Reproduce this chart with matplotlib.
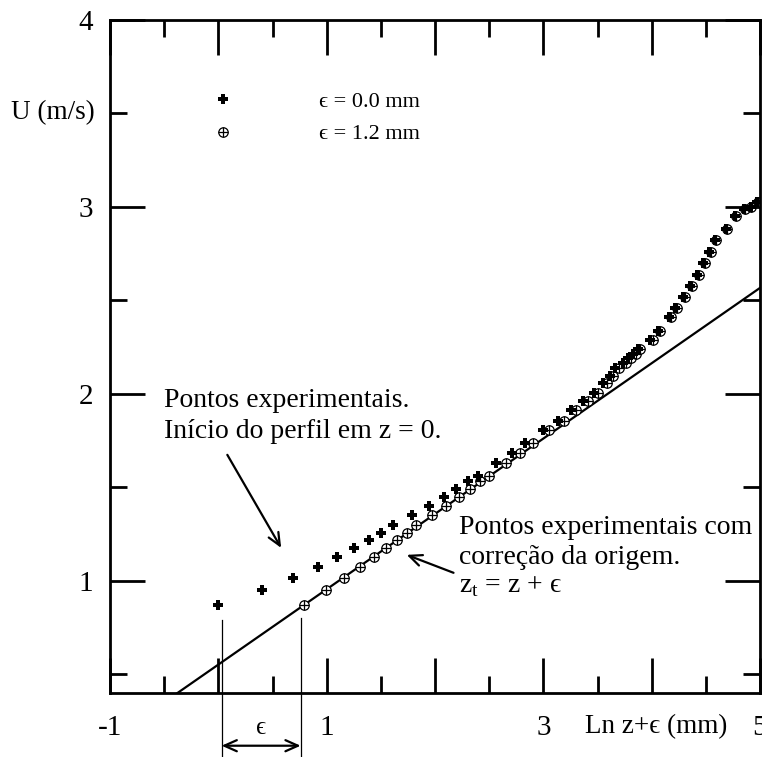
import numpy as np
import matplotlib
matplotlib.use("Agg")
import matplotlib.pyplot as plt
from matplotlib.lines import Line2D
from matplotlib.legend_handler import HandlerTuple

plt.rcParams['font.family'] = ['Liberation Serif', 'DejaVu Serif']
plt.rcParams['mathtext.fontset'] = 'custom'
plt.rcParams['mathtext.rm'] = 'Liberation Serif'

# profile heights (mm) and measured velocities (m/s)
z_mm = [1, 1.5, 2, 2.5, 3, 3.5, 4, 4.5, 5, 6, 7, 8, 9, 10, 11, 13, 15, 17,
        20, 23, 26, 29, 32, 35, 37, 39, 42, 44, 46, 48, 54, 58, 64, 68, 73,
        78, 83, 88, 93, 98, 108, 118, 128, 136, 144]
u_ms = [0.872, 0.952, 1.016, 1.075, 1.128, 1.176, 1.219, 1.257, 1.299, 1.353,
        1.398, 1.449, 1.490, 1.532, 1.561, 1.63, 1.685, 1.735,
        1.805, 1.856, 1.914, 1.963, 2.005, 2.059, 2.096, 2.139, 2.165, 2.19,
        2.215, 2.241, 2.289, 2.337, 2.412, 2.46, 2.519,
        2.578, 2.636, 2.701, 2.759, 2.824, 2.882, 2.952, 2.989, 3.0, 3.027]
eps_mm = 1.2

# log-law fit  U = a + b * ln(z+eps)
fit_a = 0.552
fit_b = 0.403

xticks = [-1, 0, 1, 2, 3, 4, 5]
xticklabels = ['-1', '', '1', '', '3', '', '5']
yticks = [1, 2, 3, 4]
yticklabels = ['1', '2', '3', '4']

EPS = '\u03f5'

z = np.array(z_mm)
u = np.array(u_ms)
x0 = np.log(z)
x1 = np.log(z + eps_mm)

fig = plt.figure(figsize=(7.62, 7.57), dpi=100)
ax = fig.add_axes([110/762, 64/757, 650/762, 673/757])

xl = np.linspace(-1, 5, 50)
ax.plot(xl, fit_a + fit_b*xl, color='black', lw=1.6)

ax.plot(x1, u, 'o', ms=6.8, mfc='white', mec='black', mew=0.9)
ax.plot(x1, u, '+', ms=6.8, color='black', mew=0.9)
ax.plot(x0, u, 'P', ms=7.5, color='black', mew=0)

ax.set_xlim(-1, 5)
ax.set_ylim(0.4, 4)
ax.set_xticks(xticks)
ax.set_xticklabels(xticklabels)
ax.set_xticks(np.arange(-0.5, 5, 1), minor=True)
ax.set_yticks(yticks)
ax.set_yticklabels(yticklabels)
ax.set_yticks([0.5, 1.5, 2.5, 3.5], minor=True)
ax.tick_params(which='both', direction='in', top=True, right=True, width=2,
               labelsize=21)
ax.tick_params(which='major', length=25)
ax.tick_params(which='minor', length=12.5)
ax.tick_params(axis='x', pad=16)
ax.tick_params(axis='y', pad=12)
for s in ax.spines.values():
    s.set_linewidth(2)

ax.text(-0.088, 0.862, 'U (m/s)', transform=ax.transAxes, fontsize=19.5,
        ha='center', va='center')
ax.text(0.84, -0.0505, 'Ln z+' + EPS + ' (mm)', transform=ax.transAxes,
        fontsize=19.5, ha='center', va='center')

# legend
h_plus = Line2D([], [], marker='P', ls='none', ms=7.5, color='black', mew=0)
h_c1 = Line2D([], [], marker='o', ls='none', ms=6.8, mfc='white', mec='black', mew=0.9)
h_c2 = Line2D([], [], marker='+', ls='none', ms=6.8, color='black', mew=0.9)
ax.legend([h_plus, (h_c1, h_c2)], [EPS + ' = 0.0 mm', EPS + ' = 1.2 mm'],
          handler_map={tuple: HandlerTuple(ndivide=1)},
          loc='upper left', bbox_to_anchor=(0.157, 0.8945), frameon=False,
          fontsize=16, handlelength=1.0, handletextpad=3.8, labelspacing=0.55,
          borderpad=0, borderaxespad=0)

# annotations
ax.text(-0.506, 1.882, 'Pontos experimentais.\nIn\u00edcio do perfil em z = 0.',
        fontsize=20, ha='left', va='center', linespacing=1.35)
ax.annotate('', xy=(0.58, 1.176), xytext=(0.083, 1.674),
            arrowprops=dict(arrowstyle='->,head_length=0.9,head_width=0.4', lw=1.6,
                            color='black', shrinkA=0, shrinkB=0))

ax.text(2.217, 1.205, 'Pontos experimentais com\ncorre\u00e7\u00e3o da origem.',
        fontsize=20, ha='left', va='center', linespacing=1.25)
ax.text(2.217, 0.94, r'$\mathrm{z}_\mathrm{t}$ = z + ' + EPS, fontsize=20,
        ha='left', va='baseline')
ax.annotate('', xy=(1.739, 1.139), xytext=(2.171, 1.043),
            arrowprops=dict(arrowstyle='->,head_length=0.9,head_width=0.4', lw=1.6,
                            color='black', shrinkA=0, shrinkB=0))

# origin shift marker below the axis
eps_left = 0.03
eps_right = 0.76
ax.plot([eps_left, eps_left], [0.79, 0.0], color='black', lw=0.9, clip_on=False)
ax.plot([eps_right, eps_right], [0.80, 0.0], color='black', lw=0.9, clip_on=False)
ax.annotate('', xy=(eps_left, 0.118), xytext=(eps_right, 0.118),
            arrowprops=dict(arrowstyle='<->,head_length=0.9,head_width=0.4', lw=1.6,
                            color='black', shrinkA=0, shrinkB=0),
            annotation_clip=False)
ax.text(0.396, 0.214, EPS, fontsize=18, ha='center', va='center')

fig.savefig('out.png', dpi=100)
